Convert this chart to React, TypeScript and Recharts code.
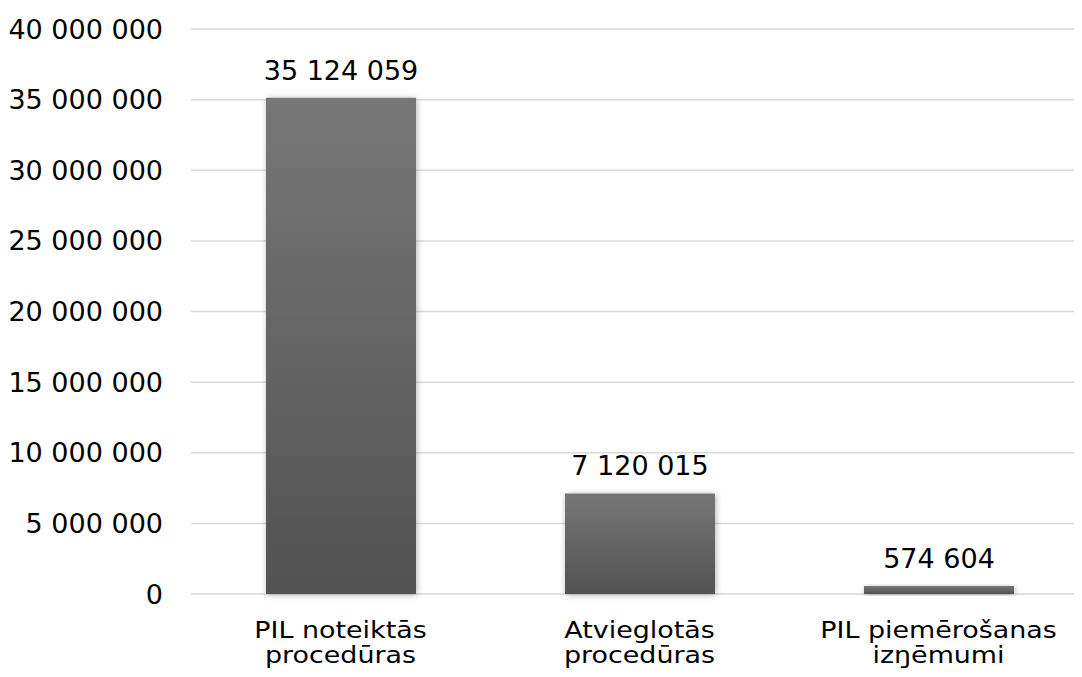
import React from 'react'
import {
  BarChart,
  Bar,
  XAxis,
  YAxis,
  CartesianGrid,
  LabelList,
} from 'recharts'

const categories = [
  ['PIL noteiktās', 'procedūras'],
  ['Atvieglotās', 'procedūras'],
  ['PIL piemērošanas', 'izŋēmumi'],
]
const values = [35124059, 7120015, 574604]
const yTicks = [0, 5000000, 10000000, 15000000, 20000000, 25000000, 30000000, 35000000, 40000000]

const FONT = '"DejaVu Sans", Verdana, sans-serif'
const FONT_SIZE = 27
const CAT_FONT_SIZE = 23

const chartData = categories.map((lines, i) => ({
  name: lines.join(' '),
  lines,
  value: values[i],
}))

const formatNum = (v: number): string =>
  String(v).replace(/\B(?=(\d{3})+(?!\d))/g, ' ')

// category labels in the source are set wide, so stretch them a bit
const CategoryTick = (props: any) => {
  const { x, y, payload } = props
  const item = chartData.find((d) => d.name === payload.value)
  const lines = item ? item.lines : [String(payload.value)]
  return (
    <g transform={`translate(${x},${y}) scale(1.17,1)`}>
      {lines.map((line, i) => (
        <text
          key={i}
          x={0}
          y={0}
          dy={i * 25}
          textAnchor="middle"
          dominantBaseline="central"
          fill="#000"
          fontFamily={FONT}
          fontSize={CAT_FONT_SIZE}
        >
          {line}
        </text>
      ))}
    </g>
  )
}

export default function App() {
  return (
    <div style={{ width: 1074, height: 669, background: '#fff', overflow: 'hidden' }}>
      <BarChart
        width={1080}
        height={669}
        data={chartData}
        margin={{ top: 21, right: 0, left: 0, bottom: 0 }}
      >
        <defs>
          <linearGradient id="barGrad" x1="0" y1="0" x2="0" y2="1">
            <stop offset="0%" stopColor="#777777" />
            <stop offset="100%" stopColor="#525252" />
          </linearGradient>
          <filter id="barShadow" x="-20%" y="-20%" width="140%" height="140%">
            <feDropShadow dx="1" dy="1" stdDeviation="3" floodColor="#000" floodOpacity="0.3" />
          </filter>
        </defs>
        <CartesianGrid vertical={false} stroke="#d9d9d9" strokeWidth={1.5} />
        <XAxis
          dataKey="name"
          height={83}
          axisLine={false}
          tickLine={false}
          interval={0}
          tickSize={0}
          tickMargin={36}
          tick={<CategoryTick />}
        />
        <YAxis
          width={183}
          domain={[0, 40000000]}
          ticks={yTicks}
          interval={0}
          axisLine={false}
          tickLine={false}
          tickSize={0}
          tickMargin={28}
          tickFormatter={formatNum}
          tick={{ fill: '#000', fontSize: FONT_SIZE, fontFamily: FONT }}
        />
        <Bar
          dataKey="value"
          fill="url(#barGrad)"
          barSize={150}
          filter="url(#barShadow)"
          isAnimationActive={false}
        >
          <LabelList
            dataKey="value"
            position="top"
            offset={18}
            formatter={(v: any) => formatNum(Number(v))}
            fill="#000"
            fontSize={FONT_SIZE}
            fontFamily={FONT}
          />
        </Bar>
      </BarChart>
    </div>
  )
}
